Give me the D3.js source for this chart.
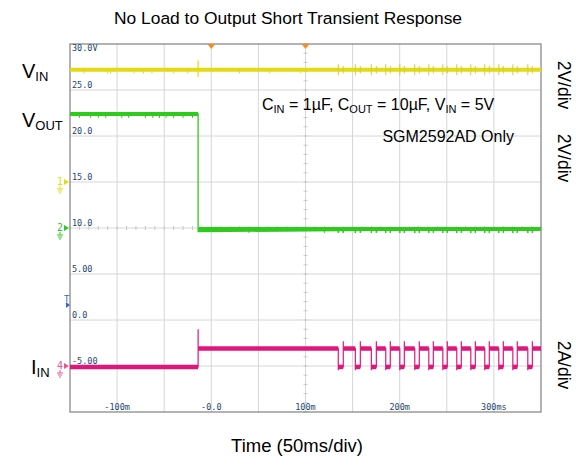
<!DOCTYPE html>
<html>
<head>
<meta charset="utf-8">
<script src="https://cdn.jsdelivr.net/npm/d3@7"></script>
<style>
  body { margin: 0; background: #fff; }
  text { font-family: "Liberation Sans", Arial, sans-serif; }
  text.scope { font-family: "DejaVu Sans Mono", monospace; }
</style>
</head>
<body>
<div id="chart"></div>
<script>
// scope screen values (display units, ms)
var timeTicks = [-100, 0, 100, 200, 300];
var timeLabels = ["-100m", "-0.0", "100m", "200m", "300ms"];
var levelTicks = [30, 25, 20, 15, 10, 5, 0, -5];
var levelLabels = ["30.0V", "25.0", "20.0", "15.0", "10.0", "5.00", "0.0", "-5.00"];

var stepTime = -14;
var vinLevel = 27.2;
var voutHigh = 22.4, voutLow = 9.9;
var iinLow = -5.1, iinHigh = -3.1, iinPeak = -1.0;

// low parts of the input current pulse train [start, end] ms
var pulseLows = [
  [134.8, 140.1], [152.9, 158.2], [169.9, 175.2], [185.2, 190.0],
  [200.1, 204.9], [216.0, 220.8], [230.9, 235.7], [245.8, 250.5],
  [260.6, 265.4], [275.5, 280.3], [290.3, 295.1], [305.2, 310.0],
  [320.1, 324.8], [336.0, 340.8]
];
var vinNoise = [-135, -110, -107, -82, -72, -63, -40, -25, 30, 62, 95];
var voutNoise = [-140, -128, -120, -112, -95, -88, -70, -62, -55, -48, -40, -30, -20, 40, 120];
var triggerMarks = [0, 100];

var width = 576, height = 467;
var svg = d3.select("#chart").append("svg")
    .attr("width", width)
    .attr("height", height);

var x = d3.scaleLinear().domain([-150, 350]).range([70, 541]);
var y = d3.scaleLinear().domain([-10, 30]).range([412, 44]);

// Grid
var grid = svg.append("g");
grid.selectAll(".vg")
  .data(d3.range(-100, 350, 50))
  .enter().append("line")
    .attr("x1", d => x(d)).attr("x2", d => x(d))
    .attr("y1", y(30)).attr("y2", y(-10))
    .attr("stroke", "#d6d6d6").attr("stroke-width", 1);
grid.selectAll(".hg")
  .data(d3.range(-5, 30, 5))
  .enter().append("line")
    .attr("x1", x(-150)).attr("x2", x(350))
    .attr("y1", d => y(d)).attr("y2", d => y(d))
    .attr("stroke", "#d6d6d6").attr("stroke-width", 1);

// minor ticks on centre lines
grid.selectAll(".mx")
  .data(d3.range(-150, 351, 10))
  .enter().append("line")
    .attr("x1", d => x(d)).attr("x2", d => x(d))
    .attr("y1", y(10) - 2).attr("y2", y(10) + 2)
    .attr("stroke", "#c8c8c8");
grid.selectAll(".my")
  .data(d3.range(-10, 30.01, 1))
  .enter().append("line")
    .attr("x1", x(100) - 2).attr("x2", x(100) + 2)
    .attr("y1", d => y(d)).attr("y2", d => y(d))
    .attr("stroke", "#c8c8c8");

// frame
svg.append("rect")
  .attr("x", x(-150)).attr("y", y(30))
  .attr("width", x(350) - x(-150)).attr("height", y(-10) - y(30))
  .attr("fill", "none").attr("stroke", "#808080").attr("stroke-width", 1.2);

// scope labels
svg.selectAll(".yl")
  .data(levelTicks)
  .enter().append("text")
    .attr("class", "scope")
    .attr("x", x(-150) + 2)
    .attr("y", d => y(d) - 2 + (d === 30 ? 9 : 0))
    .attr("font-size", 8.5)
    .attr("fill", "#24466e")
    .text((d, i) => levelLabels[i]);
svg.selectAll(".xl")
  .data(timeTicks)
  .enter().append("text")
    .attr("class", "scope")
    .attr("x", d => x(d))
    .attr("y", y(-10) - 2)
    .attr("text-anchor", "middle")
    .attr("font-size", 8.5)
    .attr("fill", "#24466e")
    .text((d, i) => timeLabels[i]);

// trigger marks on top
svg.selectAll(".tm")
  .data(triggerMarks)
  .enter().append("path")
    .attr("d", d => "M" + (x(d) - 4) + "," + y(30) + "L" + (x(d) + 4) + "," + y(30) + "L" + x(d) + "," + (y(30) + 5) + "Z")
    .attr("fill", "#f0902a");

var yellow = "#e3da12", green = "#2ecb1c", pink = "#e0167c";

// VIN trace
var tr = svg.append("g");
tr.append("line")
  .attr("x1", x(-150)).attr("x2", x(350))
  .attr("y1", y(vinLevel)).attr("y2", y(vinLevel))
  .attr("stroke", yellow).attr("stroke-width", 4);
tr.selectAll(".vn")
  .data(vinNoise)
  .enter().append("line")
    .attr("x1", d => x(d)).attr("x2", d => x(d))
    .attr("y1", y(vinLevel)).attr("y2", y(vinLevel - 0.4))
    .attr("stroke", yellow).attr("stroke-width", 1);
tr.append("line")
  .attr("x1", x(stepTime)).attr("x2", x(stepTime))
  .attr("y1", y(vinLevel + 1)).attr("y2", y(vinLevel - 0.8))
  .attr("stroke", yellow).attr("stroke-width", 1.2);
tr.selectAll(".ve")
  .data(d3.merge(pulseLows))
  .enter().append("line")
    .attr("x1", d => x(d)).attr("x2", d => x(d))
    .attr("y1", (d, i) => y(vinLevel + (i % 2 ? 0.4 : 0.6)))
    .attr("y2", (d, i) => y(vinLevel - (i % 2 ? 0.4 : 0.6)))
    .attr("stroke", "#d4cd3a").attr("stroke-width", 1);

// VOUT trace
tr.append("path")
  .attr("d", d3.line()([[x(-150), y(voutHigh)], [x(stepTime), y(voutHigh)], [x(stepTime), y(voutLow - 0.3)], [x(350), y(voutLow)]]))
  .attr("fill", "none").attr("stroke", green).attr("stroke-width", 1.3);
tr.append("line")
  .attr("x1", x(-150)).attr("x2", x(stepTime))
  .attr("y1", y(voutHigh)).attr("y2", y(voutHigh))
  .attr("stroke", green).attr("stroke-width", 4);
tr.append("line")
  .attr("x1", x(stepTime)).attr("x2", x(350))
  .attr("y1", y(voutLow)).attr("y2", y(voutLow))
  .attr("stroke", green).attr("stroke-width", 4);
tr.selectAll(".gn")
  .data(voutNoise)
  .enter().append("line")
    .attr("x1", d => x(d)).attr("x2", d => x(d))
    .attr("y1", d => y(d < stepTime ? voutHigh : voutLow))
    .attr("y2", d => y(d < stepTime ? voutHigh : voutLow) + 4)
    .attr("stroke", green).attr("stroke-width", 1);
tr.selectAll(".ge")
  .data(d3.merge(pulseLows))
  .enter().append("line")
    .attr("x1", d => x(d)).attr("x2", d => x(d))
    .attr("y1", y(voutLow) - 1).attr("y2", y(voutLow) + 4)
    .attr("stroke", green).attr("stroke-width", 1.5);

// IIN trace
var segs = [[-150, stepTime, iinLow], [stepTime, pulseLows[0][0], iinHigh]];
pulseLows.forEach(function(p, i) {
  var next = i < pulseLows.length - 1 ? pulseLows[i + 1][0] : 350;
  segs.push([p[0], p[1], iinLow]);
  segs.push([p[1], next, iinHigh]);
});
var thin = [[x(-150), y(iinLow)], [x(stepTime), y(iinLow)], [x(stepTime), y(iinPeak)], [x(stepTime), y(iinHigh)]];
pulseLows.forEach(function(p) {
  thin.push([x(p[0]), y(iinHigh)], [x(p[0]), y(iinLow - 0.35)], [x(p[0]), y(iinLow)]);
  thin.push([x(p[1]), y(iinLow)], [x(p[1]), y(iinHigh + 0.8)], [x(p[1]), y(iinHigh)]);
});
thin.push([x(350), y(iinHigh)]);
tr.append("path")
  .attr("d", d3.line()(thin))
  .attr("fill", "none").attr("stroke", pink).attr("stroke-width", 1.2);
tr.selectAll(".ps")
  .data(segs)
  .enter().append("line")
    .attr("x1", d => x(d[0])).attr("x2", d => x(d[1]))
    .attr("y1", d => y(d[2])).attr("y2", d => y(d[2]))
    .attr("stroke", pink).attr("stroke-width", 4.5);

// channel ground markers
var chans = [["1", 15, yellow], ["2", 10, green], ["4", -5, "#e8558f"]];
var cm = svg.selectAll(".cm")
  .data(chans)
  .enter().append("g")
    .attr("transform", d => "translate(" + (x(-150) - 13) + "," + y(d[1]) + ")");
cm.append("text")
  .attr("class", "scope")
  .attr("x", 0).attr("y", 3)
  .attr("font-size", 10)
  .attr("fill", d => d[2])
  .text(d => d[0]);
cm.append("path")
  .attr("d", "M7,-3L12,0L7,3Z")
  .attr("fill", d => d[2]);
cm.append("path")
  .attr("d", "M3,4V7M0,7H6M1,9H5M2,11H4")
  .attr("stroke", d => d[2]).attr("stroke-width", 1).attr("fill", "none");

// trigger level marker
svg.append("text")
  .attr("class", "scope")
  .attr("x", x(-150) - 6).attr("y", 302)
  .attr("font-size", 9)
  .attr("fill", "#3a66c4").text("T");
svg.append("path")
  .attr("d", "M" + (x(-150) - 4) + ",302L" + (x(-150)) + ",305L" + (x(-150) - 4) + ",308Z")
  .attr("fill", "#3a66c4");

// title and axis label
svg.append("text")
  .attr("x", 288).attr("y", 24)
  .attr("text-anchor", "middle").attr("font-size", 17.4)
  .text("No Load to Output Short Transient Response");
svg.append("text")
  .attr("x", 297).attr("y", 452)
  .attr("text-anchor", "middle").attr("font-size", 18.5)
  .text("Time (50ms/div)");

// left channel names
function subLabel(xp, yp, main, sub) {
  var t = svg.append("text").attr("x", xp).attr("y", yp).attr("font-size", 20);
  t.append("tspan").text(main);
  t.append("tspan").attr("font-size", 13).attr("dy", 3).text(sub);
}
subLabel(22, 78, "V", "IN");
subLabel(22, 127, "V", "OUT");
subLabel(31, 374, "I", "IN");

// right scale labels
var scales = [["2V/div", 85], ["2V/div", 158], ["2A/div", 365]];
svg.selectAll(".sc")
  .data(scales)
  .enter().append("text")
    .attr("transform", d => "translate(558," + d[1] + ") rotate(90)")
    .attr("text-anchor", "middle").attr("font-size", 17.5)
    .text(d => d[0]);

// conditions
var cond = svg.append("text").attr("x", 262).attr("y", 110).attr("font-size", 16);
[["C", 0], ["IN", 1], [" = 1µF, C", 0], ["OUT", 1], [" = 10µF, V", 0], ["IN", 1], [" = 5V", 0]].forEach(function(p, i, arr) {
  var prevSub = i > 0 && arr[i - 1][1];
  cond.append("tspan")
    .attr("font-size", p[1] ? 11 : 16)
    .attr("dy", p[1] ? 3 : (prevSub ? -3 : 0))
    .text(p[0]);
});
svg.append("text")
  .attr("x", 514).attr("y", 142)
  .attr("text-anchor", "end").attr("font-size", 16)
  .text("SGM2592AD Only");
</script>
</body>
</html>
